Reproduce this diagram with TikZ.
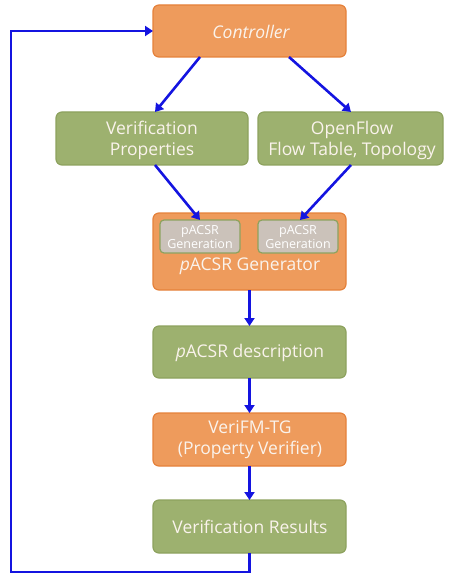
\documentclass[tikz,border=0pt]{standalone}
\usepackage{fontspec}
\setmainfont{Open Sans}
\usetikzlibrary{arrows.meta}
\definecolor{orfill}{HTML}{EE9B5C}
\definecolor{ordraw}{HTML}{E5813A}
\definecolor{grfill}{HTML}{9DB16F}
\definecolor{grdraw}{HTML}{8DA25E}
\definecolor{gyfill}{HTML}{CBC2BA}
\definecolor{txt}{HTML}{FAF3EC}
\definecolor{flow}{HTML}{1414E0}
\begin{document}
\begin{tikzpicture}[x=1pt,y=-1pt,
  box/.style={rounded corners=6pt, line width=1.2pt},
  orbox/.style={box, fill=orfill, draw=ordraw},
  grbox/.style={box, fill=grfill, draw=grdraw},
  gybox/.style={rounded corners=4pt, line width=1.2pt, fill=gyfill, draw=grdraw},
  label/.style={text=txt, align=center, inner sep=0pt, font=\fontsize{17.5}{21}\selectfont},
  smalllabel/.style={text=white, align=center, inner sep=0pt, font=\fontsize{12.5}{13.5}\selectfont},
  flowarrow/.style={draw=flow, line width=2.6pt, -{Triangle[length=8pt,width=10pt]}}]
\useasboundingbox (0,0) rectangle (449,577);
% main boxes
\draw[orbox] (153,5) rectangle (346,57);
\node[label, font=\fontsize{17.5}{21}\selectfont\itshape] (ctrl) at (251,32) {Controller};
\coordinate (ctrlL) at (153,31);
\coordinate (ctrlA) at (200,57);
\coordinate (ctrlB) at (289,57);

\draw[grbox] (56,112) rectangle (248,165);
\node[label] (vp) at (152,140) {Verification\\Properties};
\coordinate (vpT) at (155,112);
\coordinate (vpB) at (155,165);

\draw[grbox] (258,112) rectangle (443,165);
\node[label] (of) at (352,140) {OpenFlow\\Flow Table, Topology};
\coordinate (ofT) at (351,112);
\coordinate (ofB) at (351,165);

\draw[orbox] (153,213) rectangle (346,290);
\node[label] (gen) at (250,266) {\textit{p}ACSR Generator};
\coordinate (genB) at (249.5,290);

\draw[gybox] (160,220) rectangle (240,253);
\node[smalllabel] (g1) at (200,237) {pACSR\\Generation};
\coordinate (g1T) at (200,220);
\draw[gybox] (258,220) rectangle (338,253);
\node[smalllabel] (g2) at (298,237) {pACSR\\Generation};
\coordinate (g2T) at (300,220);

\draw[grbox] (153,326) rectangle (346,378);
\node[label] (desc) at (250,353) {\textit{p}ACSR description};
\coordinate (descT) at (249.5,326);
\coordinate (descB) at (249.5,378);

\draw[orbox] (153,413) rectangle (346,466);
\node[label] (vf) at (250,440) {VeriFM-TG\\(Property Verifier)};
\coordinate (vfT) at (249.5,413);
\coordinate (vfB) at (249.5,466);

\draw[grbox] (153,500) rectangle (346,553);
\node[label] (res) at (250,527) {Verification Results};
\coordinate (resT) at (249.5,500);
\coordinate (resB) at (249.5,553);

% connectors
\draw[flowarrow] (ctrlA) -- (vpT);
\draw[flowarrow] (ctrlB) -- (ofT);
\draw[flowarrow] (vpB) -- (g1T);
\draw[flowarrow] (ofB) -- (g2T);
\draw[flowarrow] (genB) -- (descT);
\draw[flowarrow] (descB) -- (vfT);
\draw[flowarrow] (vfB) -- (resT);
\draw[flowarrow] (resB) -- (249.5,572) -- (11,572) -- (11,31) -- (ctrlL);
\end{tikzpicture}
\end{document}
